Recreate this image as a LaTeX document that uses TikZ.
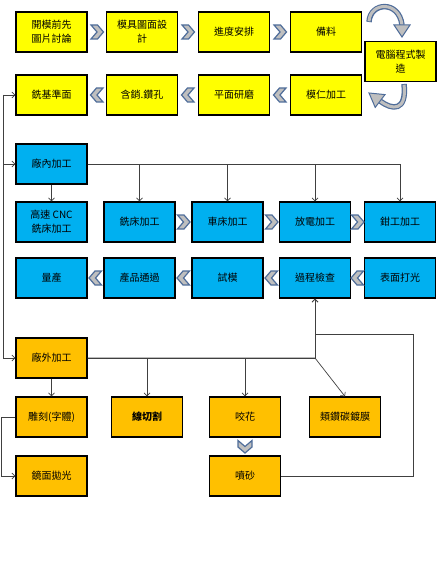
\documentclass[tikz,border=0pt]{standalone}
\usepackage{fontspec}
\newfontfamily\cjk{Noto Sans CJK TC}
\usetikzlibrary{arrows.meta}
\definecolor{amarelo}{HTML}{FFFF00}
\definecolor{azul}{HTML}{00B0F0}
\definecolor{laranja}{HTML}{FFC000}
\definecolor{contorno}{HTML}{4F6D9A}
\definecolor{cinza}{HTML}{BFBFBF}

\begin{document}
\begin{tikzpicture}[x=1pt, y=-1pt,
    caixa/.style={draw=black, line width=1.1pt, minimum width=71pt, minimum height=40pt,
        inner sep=1pt, align=center, font=\cjk\fontsize{10}{14}\selectfont},
    caixa_am/.style={caixa, fill=amarelo},
    caixa_az/.style={caixa, fill=azul},
    caixa_la/.style={caixa, fill=laranja},
    seta/.style={-{Straight Barb[length=3pt,width=6pt]}, black!75, line width=0.7pt},
    linha/.style={black!75, line width=0.7pt},
    curva/.style={line width=5.5pt, contorno},
    curva_in/.style={line width=3pt, cinza, shorten <=0.8pt},
    ponta/.style={fill=cinza, draw=contorno, line width=1pt, line join=miter},
    chevron/.pic={\filldraw[fill=cinza, draw=contorno, line width=1.2pt, line join=miter]
        (-6,-7) -- (0.5,-7) -- (6.5,0) -- (0.5,7) -- (-6,7) -- (0,0) -- cycle;}
]
    \useasboundingbox (0,0) rectangle (443,577);
    % Linha 1
    \node[caixa_am] (kaimo) at (51.5,32) {開模前先\\圖片討論};
    \node[caixa_am] (tumian) at (142,32) {模具圖面設\\計};
    \node[caixa_am] (jindu) at (234,32) {進度安排};
    \node[caixa_am] (beiliao) at (326,32) {備料};
    \node[caixa_am] (diannao) at (400.5,61.5) {電腦程式製\\造};
    % Linha 2
    \node[caixa_am] (jizhun) at (51.5,95) {銑基準面};
    \node[caixa_am] (hanxiao) at (142,95) {含銷.鑽孔};
    \node[caixa_am] (pingmian) at (234,95) {平面研磨};
    \node[caixa_am] (moren) at (326,95) {模仁加工};
    % Setas curvas
    \draw[curva] (369,22) .. controls (370,2) and (399,0) .. (402,25);
    \draw[curva_in] (369,22) .. controls (370,2) and (399,0) .. (402,25);
    \filldraw[ponta] (394,25) -- (410,25) -- (402,37) -- cycle;
    \draw[curva] (404,84) .. controls (407,112) and (392,110) .. (380,101);
    \draw[curva_in] (404,84) .. controls (407,112) and (392,110) .. (380,101);
    \filldraw[ponta] (385,94.6) -- (375.2,107.4) -- (369,93) -- cycle;
    % Chevrons
    \pic at (97,32) {chevron};
    \pic at (188,32) {chevron};
    \pic at (280,32) {chevron};
    \pic[rotate=180] at (97,95) {chevron};
    \pic[rotate=180] at (188,95) {chevron};
    \pic[rotate=180] at (280,95) {chevron};
    % Fabrica interna
    \node[caixa_az] (changnei) at (51.5,164) {廠內加工};
    \node[caixa_az] (cnc) at (51.5,222) {高速 CNC\\銑床加工};
    \node[caixa_az] (xichuang) at (139.5,222) {銑床加工};
    \node[caixa_az] (chechuang) at (227.5,222) {車床加工};
    \node[caixa_az] (fangdian) at (315,222) {放電加工};
    \node[caixa_az] (qiangong) at (400,222) {鉗工加工};
    \node[caixa_az] (liangchan) at (51.5,278) {量產};
    \node[caixa_az] (tongguo) at (139.5,278) {產品通過};
    \node[caixa_az] (shimo) at (227.5,278) {試模};
    \node[caixa_az] (guocheng) at (315,278) {過程檢查};
    \node[caixa_az] (daguang) at (400,278) {表面打光};
    \pic at (183.5,222) {chevron};
    \pic at (271.5,222) {chevron};
    \pic at (357.5,222) {chevron};
    \pic[rotate=180] at (95.5,278) {chevron};
    \pic[rotate=180] at (183.5,278) {chevron};
    \pic[rotate=180] at (271.5,278) {chevron};
    \pic[rotate=180] at (357.5,278) {chevron};
    % Fabrica externa
    \node[caixa_la] (changwai) at (51.5,358) {廠外加工};
    \node[caixa_la] (diaoke) at (51.5,417) {雕刻(字體)};
    \node[caixa_la] (xianqie) at (147,417) {\bfseries 線切割};
    \node[caixa_la] (yaohua) at (245,417) {咬花};
    \node[caixa_la] (leizuan) at (345,417) {類鑽碳鍍膜};
    \node[caixa_la] (jingmian) at (51.5,476) {鏡面拋光};
    \node[caixa_la] (pensha) at (245,476) {噴砂};
    \pic[rotate=-90] at (245,446.5) {chevron};
    % Ligacoes
    \coordinate (tronco) at (3,95);
    \coordinate (quebra) at (315,358);
    \coordinate (retorno) at (413,334);
    \draw[seta] (tronco) -- (jizhun.west);
    \draw[seta] (tronco) |- (changnei.west);
    \draw[seta] (tronco) |- (changwai.west);
    \draw[seta] (changnei) -- (cnc);
    \draw[seta] (changnei.east) -| (xichuang.north);
    \draw[seta] (changnei.east) -| (chechuang.north);
    \draw[seta] (changnei.east) -| (fangdian.north);
    \draw[seta] (changnei.east) -| (qiangong.north);
    \draw[seta] (changwai.east) -| (guocheng.south);
    \draw[seta] (pensha.east) -| (retorno) -| (guocheng.south);
    \draw[seta] (changwai.east) -| (xianqie.north);
    \draw[seta] (changwai.east) -| (yaohua.north);
    \draw[seta] (changwai.east) -- (quebra) -- (leizuan.north);
    \draw[seta] (changwai) -- (diaoke);
    \draw[seta] (diaoke.west) -- ++(-14,0) |- (jingmian.west);
\end{tikzpicture}
\end{document}
